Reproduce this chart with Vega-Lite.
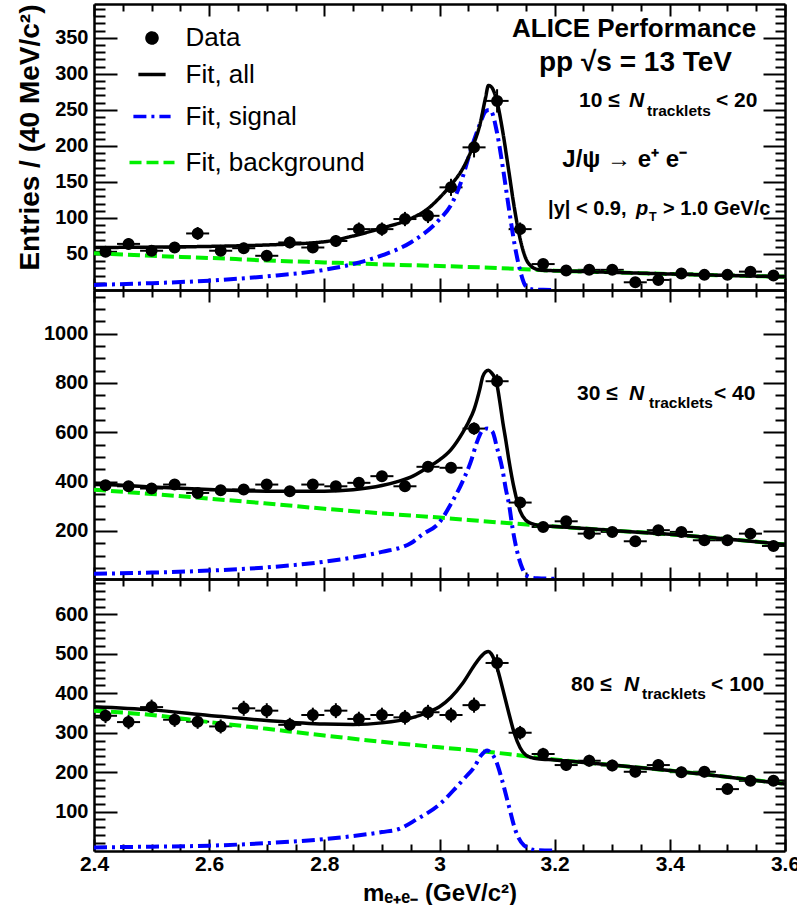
{
  "$schema": "https://vega.github.io/schema/vega-lite/v6.json",
  "background": "white",
  "padding": {"left": 15, "top": -1, "right": 0, "bottom": 0},
  "spacing": 0,
  "bounds": "flush",
  "config": {
    "view": {"stroke": null},
    "font": "Liberation Sans",
    "axis": {"domainColor": "black", "domainWidth": 2.5, "tickColor": "black", "tickWidth": 2, "grid": false, "labelFont": "Liberation Sans", "labelFontWeight": "bold", "labelColor": "black", "titleFont": "Liberation Sans", "titleFontWeight": "bold", "titleColor": "black", "labelOverlap": false, "labelFlush": false}
  },
  "datasets": {
    "points": [
      {"panel":"A","series":"Data","mass":2.42,"entries":53,"err":7.3,"halfwidth":0.02},
      {"panel":"A","series":"Data","mass":2.46,"entries":64,"err":8,"halfwidth":0.02},
      {"panel":"A","series":"Data","mass":2.50,"entries":54.5,"err":7.4,"halfwidth":0.02},
      {"panel":"A","series":"Data","mass":2.54,"entries":59,"err":7.7,"halfwidth":0.02},
      {"panel":"A","series":"Data","mass":2.58,"entries":78.5,"err":8.9,"halfwidth":0.02},
      {"panel":"A","series":"Data","mass":2.62,"entries":54.5,"err":7.4,"halfwidth":0.02},
      {"panel":"A","series":"Data","mass":2.66,"entries":58,"err":7.6,"halfwidth":0.02},
      {"panel":"A","series":"Data","mass":2.70,"entries":47.5,"err":6.9,"halfwidth":0.02},
      {"panel":"A","series":"Data","mass":2.74,"entries":66,"err":8.1,"halfwidth":0.02},
      {"panel":"A","series":"Data","mass":2.78,"entries":59,"err":7.7,"halfwidth":0.02},
      {"panel":"A","series":"Data","mass":2.82,"entries":68,"err":8.2,"halfwidth":0.02},
      {"panel":"A","series":"Data","mass":2.86,"entries":84.5,"err":9.2,"halfwidth":0.02},
      {"panel":"A","series":"Data","mass":2.90,"entries":84.5,"err":9.2,"halfwidth":0.02},
      {"panel":"A","series":"Data","mass":2.94,"entries":98.5,"err":9.9,"halfwidth":0.02},
      {"panel":"A","series":"Data","mass":2.98,"entries":103,"err":10.1,"halfwidth":0.02},
      {"panel":"A","series":"Data","mass":3.02,"entries":142.5,"err":11.9,"halfwidth":0.02},
      {"panel":"A","series":"Data","mass":3.06,"entries":198,"err":14,"halfwidth":0.02},
      {"panel":"A","series":"Data","mass":3.10,"entries":262.5,"err":16.2,"halfwidth":0.02},
      {"panel":"A","series":"Data","mass":3.14,"entries":84.5,"err":9.2,"halfwidth":0.02},
      {"panel":"A","series":"Data","mass":3.18,"entries":36,"err":6,"halfwidth":0.02},
      {"panel":"A","series":"Data","mass":3.22,"entries":27,"err":5.2,"halfwidth":0.02},
      {"panel":"A","series":"Data","mass":3.26,"entries":28,"err":5.3,"halfwidth":0.02},
      {"panel":"A","series":"Data","mass":3.30,"entries":28,"err":5.3,"halfwidth":0.02},
      {"panel":"A","series":"Data","mass":3.34,"entries":10.7,"err":3.3,"halfwidth":0.02},
      {"panel":"A","series":"Data","mass":3.38,"entries":14,"err":3.7,"halfwidth":0.02},
      {"panel":"A","series":"Data","mass":3.42,"entries":23,"err":4.8,"halfwidth":0.02},
      {"panel":"A","series":"Data","mass":3.46,"entries":21,"err":4.6,"halfwidth":0.02},
      {"panel":"A","series":"Data","mass":3.50,"entries":21,"err":4.6,"halfwidth":0.02},
      {"panel":"A","series":"Data","mass":3.54,"entries":25.5,"err":5,"halfwidth":0.02},
      {"panel":"A","series":"Data","mass":3.58,"entries":20,"err":4.5,"halfwidth":0.02},
      {"panel":"B","series":"Data","mass":2.42,"entries":385,"err":19.6,"halfwidth":0.02},
      {"panel":"B","series":"Data","mass":2.46,"entries":381,"err":19.5,"halfwidth":0.02},
      {"panel":"B","series":"Data","mass":2.50,"entries":372,"err":19.3,"halfwidth":0.02},
      {"panel":"B","series":"Data","mass":2.54,"entries":388,"err":19.7,"halfwidth":0.02},
      {"panel":"B","series":"Data","mass":2.58,"entries":354,"err":18.8,"halfwidth":0.02},
      {"panel":"B","series":"Data","mass":2.62,"entries":365,"err":19.1,"halfwidth":0.02},
      {"panel":"B","series":"Data","mass":2.66,"entries":368,"err":19.2,"halfwidth":0.02},
      {"panel":"B","series":"Data","mass":2.70,"entries":388,"err":19.7,"halfwidth":0.02},
      {"panel":"B","series":"Data","mass":2.74,"entries":361,"err":19,"halfwidth":0.02},
      {"panel":"B","series":"Data","mass":2.78,"entries":388,"err":19.7,"halfwidth":0.02},
      {"panel":"B","series":"Data","mass":2.82,"entries":381,"err":19.5,"halfwidth":0.02},
      {"panel":"B","series":"Data","mass":2.86,"entries":395,"err":19.9,"halfwidth":0.02},
      {"panel":"B","series":"Data","mass":2.90,"entries":422,"err":20.5,"halfwidth":0.02},
      {"panel":"B","series":"Data","mass":2.94,"entries":381,"err":19.5,"halfwidth":0.02},
      {"panel":"B","series":"Data","mass":2.98,"entries":460,"err":21.4,"halfwidth":0.02},
      {"panel":"B","series":"Data","mass":3.02,"entries":456,"err":21.4,"halfwidth":0.02},
      {"panel":"B","series":"Data","mass":3.06,"entries":615,"err":24.8,"halfwidth":0.02},
      {"panel":"B","series":"Data","mass":3.10,"entries":807,"err":28.4,"halfwidth":0.02},
      {"panel":"B","series":"Data","mass":3.14,"entries":315,"err":17.7,"halfwidth":0.02},
      {"panel":"B","series":"Data","mass":3.18,"entries":216,"err":14.7,"halfwidth":0.02},
      {"panel":"B","series":"Data","mass":3.22,"entries":239,"err":15.5,"halfwidth":0.02},
      {"panel":"B","series":"Data","mass":3.26,"entries":189,"err":13.7,"halfwidth":0.02},
      {"panel":"B","series":"Data","mass":3.30,"entries":196,"err":14,"halfwidth":0.02},
      {"panel":"B","series":"Data","mass":3.34,"entries":158,"err":12.6,"halfwidth":0.02},
      {"panel":"B","series":"Data","mass":3.38,"entries":203,"err":14.2,"halfwidth":0.02},
      {"panel":"B","series":"Data","mass":3.42,"entries":196,"err":14,"halfwidth":0.02},
      {"panel":"B","series":"Data","mass":3.46,"entries":162,"err":12.7,"halfwidth":0.02},
      {"panel":"B","series":"Data","mass":3.50,"entries":162,"err":12.7,"halfwidth":0.02},
      {"panel":"B","series":"Data","mass":3.54,"entries":189,"err":13.7,"halfwidth":0.02},
      {"panel":"B","series":"Data","mass":3.58,"entries":139,"err":11.8,"halfwidth":0.02},
      {"panel":"C","series":"Data","mass":2.42,"entries":343,"err":18.5,"halfwidth":0.02},
      {"panel":"C","series":"Data","mass":2.46,"entries":327,"err":18,"halfwidth":0.02},
      {"panel":"C","series":"Data","mass":2.50,"entries":365,"err":19,"halfwidth":0.02},
      {"panel":"C","series":"Data","mass":2.54,"entries":333,"err":18.2,"halfwidth":0.02},
      {"panel":"C","series":"Data","mass":2.58,"entries":328,"err":18.1,"halfwidth":0.02},
      {"panel":"C","series":"Data","mass":2.62,"entries":316,"err":17.8,"halfwidth":0.02},
      {"panel":"C","series":"Data","mass":2.66,"entries":362,"err":19,"halfwidth":0.02},
      {"panel":"C","series":"Data","mass":2.70,"entries":356,"err":18.9,"halfwidth":0.02},
      {"panel":"C","series":"Data","mass":2.74,"entries":320,"err":17.9,"halfwidth":0.02},
      {"panel":"C","series":"Data","mass":2.78,"entries":345,"err":18.6,"halfwidth":0.02},
      {"panel":"C","series":"Data","mass":2.82,"entries":356,"err":18.9,"halfwidth":0.02},
      {"panel":"C","series":"Data","mass":2.86,"entries":335,"err":18.3,"halfwidth":0.02},
      {"panel":"C","series":"Data","mass":2.90,"entries":345,"err":18.6,"halfwidth":0.02},
      {"panel":"C","series":"Data","mass":2.94,"entries":339,"err":18.4,"halfwidth":0.02},
      {"panel":"C","series":"Data","mass":2.98,"entries":352,"err":18.8,"halfwidth":0.02},
      {"panel":"C","series":"Data","mass":3.02,"entries":345,"err":18.6,"halfwidth":0.02},
      {"panel":"C","series":"Data","mass":3.06,"entries":370,"err":19.2,"halfwidth":0.02},
      {"panel":"C","series":"Data","mass":3.10,"entries":477,"err":21.8,"halfwidth":0.02},
      {"panel":"C","series":"Data","mass":3.14,"entries":300,"err":17.3,"halfwidth":0.02},
      {"panel":"C","series":"Data","mass":3.18,"entries":246,"err":15.7,"halfwidth":0.02},
      {"panel":"C","series":"Data","mass":3.22,"entries":218,"err":14.8,"halfwidth":0.02},
      {"panel":"C","series":"Data","mass":3.26,"entries":229,"err":15.1,"halfwidth":0.02},
      {"panel":"C","series":"Data","mass":3.30,"entries":217,"err":14.7,"halfwidth":0.02},
      {"panel":"C","series":"Data","mass":3.34,"entries":201,"err":14.2,"halfwidth":0.02},
      {"panel":"C","series":"Data","mass":3.38,"entries":218,"err":14.8,"halfwidth":0.02},
      {"panel":"C","series":"Data","mass":3.42,"entries":200,"err":14.1,"halfwidth":0.02},
      {"panel":"C","series":"Data","mass":3.46,"entries":201,"err":14.2,"halfwidth":0.02},
      {"panel":"C","series":"Data","mass":3.50,"entries":157,"err":12.5,"halfwidth":0.02},
      {"panel":"C","series":"Data","mass":3.54,"entries":178,"err":13.3,"halfwidth":0.02},
      {"panel":"C","series":"Data","mass":3.58,"entries":178,"err":13.3,"halfwidth":0.02}
    ],
    "curves": [
      {"panel":"A","series":"Fit, all","mass":2.40,"entries":59},
      {"panel":"A","series":"Fit, all","mass":2.50,"entries":59.5},
      {"panel":"A","series":"Fit, all","mass":2.60,"entries":60.5},
      {"panel":"A","series":"Fit, all","mass":2.70,"entries":62.5},
      {"panel":"A","series":"Fit, all","mass":2.80,"entries":67},
      {"panel":"A","series":"Fit, all","mass":2.85,"entries":75},
      {"panel":"A","series":"Fit, all","mass":2.90,"entries":86},
      {"panel":"A","series":"Fit, all","mass":2.95,"entries":99},
      {"panel":"A","series":"Fit, all","mass":2.98,"entries":113},
      {"panel":"A","series":"Fit, all","mass":3.00,"entries":128},
      {"panel":"A","series":"Fit, all","mass":3.02,"entries":146},
      {"panel":"A","series":"Fit, all","mass":3.04,"entries":168},
      {"panel":"A","series":"Fit, all","mass":3.05,"entries":184},
      {"panel":"A","series":"Fit, all","mass":3.06,"entries":204},
      {"panel":"A","series":"Fit, all","mass":3.07,"entries":229},
      {"panel":"A","series":"Fit, all","mass":3.08,"entries":267},
      {"panel":"A","series":"Fit, all","mass":3.085,"entries":284},
      {"panel":"A","series":"Fit, all","mass":3.09,"entries":282},
      {"panel":"A","series":"Fit, all","mass":3.10,"entries":261},
      {"panel":"A","series":"Fit, all","mass":3.11,"entries":219},
      {"panel":"A","series":"Fit, all","mass":3.12,"entries":167},
      {"panel":"A","series":"Fit, all","mass":3.13,"entries":114},
      {"panel":"A","series":"Fit, all","mass":3.14,"entries":71},
      {"panel":"A","series":"Fit, all","mass":3.15,"entries":43.5},
      {"panel":"A","series":"Fit, all","mass":3.16,"entries":32.5},
      {"panel":"A","series":"Fit, all","mass":3.17,"entries":28.5},
      {"panel":"A","series":"Fit, all","mass":3.18,"entries":27.3},
      {"panel":"A","series":"Fit, all","mass":3.20,"entries":26.8},
      {"panel":"A","series":"Fit, all","mass":3.30,"entries":24.5},
      {"panel":"A","series":"Fit, all","mass":3.40,"entries":22.2},
      {"panel":"A","series":"Fit, all","mass":3.50,"entries":20.2},
      {"panel":"A","series":"Fit, all","mass":3.60,"entries":18.3},
      {"panel":"A","series":"Fit, background","mass":2.40,"entries":51},
      {"panel":"A","series":"Fit, background","mass":2.50,"entries":47.5},
      {"panel":"A","series":"Fit, background","mass":2.60,"entries":44.5},
      {"panel":"A","series":"Fit, background","mass":2.70,"entries":41},
      {"panel":"A","series":"Fit, background","mass":2.80,"entries":38.3},
      {"panel":"A","series":"Fit, background","mass":2.90,"entries":35.6},
      {"panel":"A","series":"Fit, background","mass":3.00,"entries":33.3},
      {"panel":"A","series":"Fit, background","mass":3.10,"entries":30.5},
      {"panel":"A","series":"Fit, background","mass":3.20,"entries":26.8},
      {"panel":"A","series":"Fit, background","mass":3.30,"entries":24.5},
      {"panel":"A","series":"Fit, background","mass":3.40,"entries":22.2},
      {"panel":"A","series":"Fit, background","mass":3.50,"entries":20.2},
      {"panel":"A","series":"Fit, background","mass":3.60,"entries":18.3},
      {"panel":"A","series":"Fit, signal","mass":2.40,"entries":7},
      {"panel":"A","series":"Fit, signal","mass":2.50,"entries":9.5},
      {"panel":"A","series":"Fit, signal","mass":2.60,"entries":13},
      {"panel":"A","series":"Fit, signal","mass":2.70,"entries":19},
      {"panel":"A","series":"Fit, signal","mass":2.80,"entries":28},
      {"panel":"A","series":"Fit, signal","mass":2.85,"entries":36},
      {"panel":"A","series":"Fit, signal","mass":2.90,"entries":48},
      {"panel":"A","series":"Fit, signal","mass":2.95,"entries":66},
      {"panel":"A","series":"Fit, signal","mass":3.00,"entries":98},
      {"panel":"A","series":"Fit, signal","mass":3.02,"entries":118},
      {"panel":"A","series":"Fit, signal","mass":3.04,"entries":156},
      {"panel":"A","series":"Fit, signal","mass":3.05,"entries":183},
      {"panel":"A","series":"Fit, signal","mass":3.06,"entries":208},
      {"panel":"A","series":"Fit, signal","mass":3.07,"entries":230},
      {"panel":"A","series":"Fit, signal","mass":3.08,"entries":248},
      {"panel":"A","series":"Fit, signal","mass":3.086,"entries":250},
      {"panel":"A","series":"Fit, signal","mass":3.09,"entries":248},
      {"panel":"A","series":"Fit, signal","mass":3.10,"entries":218},
      {"panel":"A","series":"Fit, signal","mass":3.11,"entries":170},
      {"panel":"A","series":"Fit, signal","mass":3.12,"entries":116},
      {"panel":"A","series":"Fit, signal","mass":3.13,"entries":65},
      {"panel":"A","series":"Fit, signal","mass":3.14,"entries":27},
      {"panel":"A","series":"Fit, signal","mass":3.15,"entries":5},
      {"panel":"A","series":"Fit, signal","mass":3.16,"entries":1},
      {"panel":"A","series":"Fit, signal","mass":3.18,"entries":0.3},
      {"panel":"A","series":"Fit, signal","mass":3.20,"entries":0},
      {"panel":"B","series":"Fit, all","mass":2.40,"entries":392},
      {"panel":"B","series":"Fit, all","mass":2.50,"entries":378},
      {"panel":"B","series":"Fit, all","mass":2.60,"entries":368},
      {"panel":"B","series":"Fit, all","mass":2.70,"entries":361},
      {"panel":"B","series":"Fit, all","mass":2.80,"entries":361},
      {"panel":"B","series":"Fit, all","mass":2.85,"entries":367},
      {"panel":"B","series":"Fit, all","mass":2.90,"entries":384},
      {"panel":"B","series":"Fit, all","mass":2.93,"entries":402},
      {"panel":"B","series":"Fit, all","mass":2.95,"entries":418},
      {"panel":"B","series":"Fit, all","mass":2.98,"entries":458},
      {"panel":"B","series":"Fit, all","mass":3.00,"entries":488},
      {"panel":"B","series":"Fit, all","mass":3.02,"entries":530},
      {"panel":"B","series":"Fit, all","mass":3.04,"entries":598},
      {"panel":"B","series":"Fit, all","mass":3.05,"entries":640},
      {"panel":"B","series":"Fit, all","mass":3.06,"entries":692},
      {"panel":"B","series":"Fit, all","mass":3.07,"entries":775},
      {"panel":"B","series":"Fit, all","mass":3.075,"entries":825},
      {"panel":"B","series":"Fit, all","mass":3.08,"entries":846},
      {"panel":"B","series":"Fit, all","mass":3.085,"entries":852},
      {"panel":"B","series":"Fit, all","mass":3.09,"entries":842},
      {"panel":"B","series":"Fit, all","mass":3.095,"entries":825},
      {"panel":"B","series":"Fit, all","mass":3.10,"entries":790},
      {"panel":"B","series":"Fit, all","mass":3.105,"entries":720},
      {"panel":"B","series":"Fit, all","mass":3.11,"entries":640},
      {"panel":"B","series":"Fit, all","mass":3.115,"entries":570},
      {"panel":"B","series":"Fit, all","mass":3.12,"entries":495},
      {"panel":"B","series":"Fit, all","mass":3.13,"entries":368},
      {"panel":"B","series":"Fit, all","mass":3.14,"entries":280},
      {"panel":"B","series":"Fit, all","mass":3.15,"entries":243},
      {"panel":"B","series":"Fit, all","mass":3.16,"entries":230},
      {"panel":"B","series":"Fit, all","mass":3.17,"entries":223},
      {"panel":"B","series":"Fit, all","mass":3.18,"entries":220},
      {"panel":"B","series":"Fit, all","mass":3.20,"entries":218},
      {"panel":"B","series":"Fit, all","mass":3.30,"entries":202},
      {"panel":"B","series":"Fit, all","mass":3.40,"entries":186},
      {"panel":"B","series":"Fit, all","mass":3.50,"entries":167},
      {"panel":"B","series":"Fit, all","mass":3.60,"entries":145},
      {"panel":"B","series":"Fit, background","mass":2.40,"entries":367},
      {"panel":"B","series":"Fit, background","mass":2.50,"entries":350},
      {"panel":"B","series":"Fit, background","mass":2.60,"entries":331},
      {"panel":"B","series":"Fit, background","mass":2.70,"entries":311},
      {"panel":"B","series":"Fit, background","mass":2.80,"entries":290},
      {"panel":"B","series":"Fit, background","mass":2.90,"entries":271},
      {"panel":"B","series":"Fit, background","mass":3.00,"entries":254},
      {"panel":"B","series":"Fit, background","mass":3.10,"entries":235},
      {"panel":"B","series":"Fit, background","mass":3.20,"entries":218},
      {"panel":"B","series":"Fit, background","mass":3.30,"entries":202},
      {"panel":"B","series":"Fit, background","mass":3.40,"entries":186},
      {"panel":"B","series":"Fit, background","mass":3.50,"entries":167},
      {"panel":"B","series":"Fit, background","mass":3.60,"entries":145},
      {"panel":"B","series":"Fit, signal","mass":2.40,"entries":26},
      {"panel":"B","series":"Fit, signal","mass":2.50,"entries":31},
      {"panel":"B","series":"Fit, signal","mass":2.60,"entries":39},
      {"panel":"B","series":"Fit, signal","mass":2.70,"entries":52},
      {"panel":"B","series":"Fit, signal","mass":2.80,"entries":75},
      {"panel":"B","series":"Fit, signal","mass":2.85,"entries":92},
      {"panel":"B","series":"Fit, signal","mass":2.90,"entries":115},
      {"panel":"B","series":"Fit, signal","mass":2.95,"entries":150},
      {"panel":"B","series":"Fit, signal","mass":2.97,"entries":185},
      {"panel":"B","series":"Fit, signal","mass":3.00,"entries":235},
      {"panel":"B","series":"Fit, signal","mass":3.02,"entries":310},
      {"panel":"B","series":"Fit, signal","mass":3.04,"entries":400},
      {"panel":"B","series":"Fit, signal","mass":3.055,"entries":485},
      {"panel":"B","series":"Fit, signal","mass":3.065,"entries":560},
      {"panel":"B","series":"Fit, signal","mass":3.075,"entries":608},
      {"panel":"B","series":"Fit, signal","mass":3.083,"entries":615},
      {"panel":"B","series":"Fit, signal","mass":3.092,"entries":602},
      {"panel":"B","series":"Fit, signal","mass":3.10,"entries":536},
      {"panel":"B","series":"Fit, signal","mass":3.109,"entries":453},
      {"panel":"B","series":"Fit, signal","mass":3.115,"entries":372},
      {"panel":"B","series":"Fit, signal","mass":3.121,"entries":304},
      {"panel":"B","series":"Fit, signal","mass":3.127,"entries":209},
      {"panel":"B","series":"Fit, signal","mass":3.135,"entries":115},
      {"panel":"B","series":"Fit, signal","mass":3.144,"entries":47},
      {"panel":"B","series":"Fit, signal","mass":3.155,"entries":14},
      {"panel":"B","series":"Fit, signal","mass":3.17,"entries":8},
      {"panel":"B","series":"Fit, signal","mass":3.20,"entries":6},
      {"panel":"C","series":"Fit, all","mass":2.40,"entries":366},
      {"panel":"C","series":"Fit, all","mass":2.50,"entries":358},
      {"panel":"C","series":"Fit, all","mass":2.60,"entries":344},
      {"panel":"C","series":"Fit, all","mass":2.70,"entries":331},
      {"panel":"C","series":"Fit, all","mass":2.80,"entries":322},
      {"panel":"C","series":"Fit, all","mass":2.85,"entries":321},
      {"panel":"C","series":"Fit, all","mass":2.90,"entries":325},
      {"panel":"C","series":"Fit, all","mass":2.95,"entries":337},
      {"panel":"C","series":"Fit, all","mass":2.98,"entries":352},
      {"panel":"C","series":"Fit, all","mass":3.00,"entries":366},
      {"panel":"C","series":"Fit, all","mass":3.02,"entries":390},
      {"panel":"C","series":"Fit, all","mass":3.04,"entries":425},
      {"panel":"C","series":"Fit, all","mass":3.06,"entries":470},
      {"panel":"C","series":"Fit, all","mass":3.07,"entries":490},
      {"panel":"C","series":"Fit, all","mass":3.08,"entries":504},
      {"panel":"C","series":"Fit, all","mass":3.085,"entries":506},
      {"panel":"C","series":"Fit, all","mass":3.09,"entries":500},
      {"panel":"C","series":"Fit, all","mass":3.10,"entries":465},
      {"panel":"C","series":"Fit, all","mass":3.11,"entries":410},
      {"panel":"C","series":"Fit, all","mass":3.12,"entries":352},
      {"panel":"C","series":"Fit, all","mass":3.13,"entries":298},
      {"panel":"C","series":"Fit, all","mass":3.14,"entries":262},
      {"panel":"C","series":"Fit, all","mass":3.15,"entries":243},
      {"panel":"C","series":"Fit, all","mass":3.16,"entries":237},
      {"panel":"C","series":"Fit, all","mass":3.17,"entries":234},
      {"panel":"C","series":"Fit, all","mass":3.20,"entries":231},
      {"panel":"C","series":"Fit, all","mass":3.30,"entries":218},
      {"panel":"C","series":"Fit, all","mass":3.40,"entries":204},
      {"panel":"C","series":"Fit, all","mass":3.50,"entries":188},
      {"panel":"C","series":"Fit, all","mass":3.60,"entries":170},
      {"panel":"C","series":"Fit, background","mass":2.40,"entries":356},
      {"panel":"C","series":"Fit, background","mass":2.50,"entries":345},
      {"panel":"C","series":"Fit, background","mass":2.60,"entries":327},
      {"panel":"C","series":"Fit, background","mass":2.70,"entries":310},
      {"panel":"C","series":"Fit, background","mass":2.80,"entries":293},
      {"panel":"C","series":"Fit, background","mass":2.90,"entries":277},
      {"panel":"C","series":"Fit, background","mass":3.00,"entries":263},
      {"panel":"C","series":"Fit, background","mass":3.10,"entries":249},
      {"panel":"C","series":"Fit, background","mass":3.20,"entries":232},
      {"panel":"C","series":"Fit, background","mass":3.30,"entries":218},
      {"panel":"C","series":"Fit, background","mass":3.40,"entries":204},
      {"panel":"C","series":"Fit, background","mass":3.50,"entries":188},
      {"panel":"C","series":"Fit, background","mass":3.60,"entries":170},
      {"panel":"C","series":"Fit, signal","mass":2.40,"entries":9},
      {"panel":"C","series":"Fit, signal","mass":2.50,"entries":11},
      {"panel":"C","series":"Fit, signal","mass":2.60,"entries":13.5},
      {"panel":"C","series":"Fit, signal","mass":2.70,"entries":20},
      {"panel":"C","series":"Fit, signal","mass":2.80,"entries":30},
      {"panel":"C","series":"Fit, signal","mass":2.85,"entries":38},
      {"panel":"C","series":"Fit, signal","mass":2.90,"entries":48},
      {"panel":"C","series":"Fit, signal","mass":2.93,"entries":56},
      {"panel":"C","series":"Fit, signal","mass":2.96,"entries":80},
      {"panel":"C","series":"Fit, signal","mass":3.00,"entries":118},
      {"panel":"C","series":"Fit, signal","mass":3.03,"entries":163},
      {"panel":"C","series":"Fit, signal","mass":3.045,"entries":187},
      {"panel":"C","series":"Fit, signal","mass":3.06,"entries":212},
      {"panel":"C","series":"Fit, signal","mass":3.072,"entries":242},
      {"panel":"C","series":"Fit, signal","mass":3.083,"entries":255},
      {"panel":"C","series":"Fit, signal","mass":3.09,"entries":248},
      {"panel":"C","series":"Fit, signal","mass":3.098,"entries":229},
      {"panel":"C","series":"Fit, signal","mass":3.109,"entries":178},
      {"panel":"C","series":"Fit, signal","mass":3.121,"entries":111},
      {"panel":"C","series":"Fit, signal","mass":3.132,"entries":52},
      {"panel":"C","series":"Fit, signal","mass":3.147,"entries":14},
      {"panel":"C","series":"Fit, signal","mass":3.167,"entries":2},
      {"panel":"C","series":"Fit, signal","mass":3.20,"entries":1}
    ]
  },
  "vconcat": [
    {
      "width": 691, "height": 286,
      "layer": [
        {"data": {"name": "points"}, "transform": [{"filter": "datum.panel === 'A'"}],
         "mark": {"type": "errorbar", "color": "black", "thickness": 2},
         "encoding": {
           "x": {"field": "mass", "type": "quantitative", "scale": {"domain": [2.4, 3.6], "nice": false, "zero": false}, "axis": null},
           "xError": {"field": "halfwidth"},
           "y": {"field": "entries", "type": "quantitative", "scale": {"domain": [0, 397], "nice": false, "zero": false}, "axis": null}}},
        {"data": {"name": "points"}, "transform": [{"filter": "datum.panel === 'A'"}],
         "mark": {"type": "errorbar", "color": "black", "thickness": 2},
         "encoding": {
           "x": {"field": "mass", "type": "quantitative", "scale": {"domain": [2.4, 3.6], "nice": false, "zero": false}, "axis": null},
           "y": {"field": "entries", "type": "quantitative", "scale": {"domain": [0, 397], "nice": false, "zero": false}, "axis": null},
           "yError": {"field": "err"}}},
        {"data": {"name": "curves"}, "transform": [{"filter": "datum.panel === 'A' && datum.series === 'Fit, background'"}],
         "mark": {"type": "line", "strokeWidth": 4, "clip": true, "interpolate": "monotone"},
         "encoding": {
           "x": {"field": "mass", "type": "quantitative", "scale": {"domain": [2.4, 3.6], "nice": false, "zero": false},
                 "axis": {"orient": "bottom", "values": [2.4,2.45,2.5,2.55,2.6,2.65,2.7,2.75,2.8,2.85,2.9,2.95,3,3.05,3.1,3.15,3.2,3.25,3.3,3.35,3.4,3.45,3.5,3.55,3.6], "labels": false, "title": null,
                          "tickSize": {"condition": {"test": "abs(datum.value*5 - round(datum.value*5)) < 0.01", "value": -12}, "value": -7}}},
           "y": {"field": "entries", "type": "quantitative", "scale": {"domain": [0, 397], "nice": false, "zero": false},
                 "axis": {"orient": "left", "values": [10,20,30,40,50,60,70,80,90,100,110,120,130,140,150,160,170,180,190,200,210,220,230,240,250,260,270,280,290,300,310,320,330,340,350,360,370,380,390],
                          "labelExpr": "datum.value % 50 === 0 ? format(datum.value, 'd') : ''", "labelFontSize": 20, "labelPadding": 29, "labelBaseline": "middle",
                          "tickSize": {"condition": {"test": "datum.value % 50 === 0", "value": -23}, "value": -11},
                          "title": "Entries / (40 MeV/c²)", "titleFontSize": 28, "titleAnchor": "end", "titleX": -50}},
           "color": {"field": "series", "type": "nominal", "scale": {"domain": ["Data", "Fit, all", "Fit, signal", "Fit, background"], "range": ["black", "black", "#0000ff", "#00f000"]},
                     "legend": {"title": null, "orient": "none", "legendX": 33.5, "legendY": 21, "padding": 0, "labelFont": "Liberation Sans", "labelFontSize": 26, "labelFontWeight": "normal", "labelColor": "black", "labelOffset": 9, "labelLimit": 0, "rowPadding": 8, "symbolStrokeWidth": 3.5, "symbolOpacity": 1}},
           "strokeDash": {"field": "series", "type": "nominal", "scale": {"domain": ["Data", "Fit, all", "Fit, signal", "Fit, background"], "range": [[1, 0], [1, 0], [13, 5, 3, 5], [12, 5]]},
                     "legend": {"title": null, "orient": "none", "legendX": 33.5, "legendY": 21, "padding": 0, "labelFont": "Liberation Sans", "labelFontSize": 26, "labelFontWeight": "normal", "labelColor": "black", "labelOffset": 9, "labelLimit": 0, "rowPadding": 8, "symbolStrokeWidth": 3.5, "symbolOpacity": 1}}}},
        {"data": {"name": "curves"}, "transform": [{"filter": "datum.panel === 'A' && datum.series === 'Fit, signal'"}],
         "mark": {"type": "line", "strokeWidth": 4, "clip": true, "interpolate": "monotone"},
         "encoding": {
           "x": {"field": "mass", "type": "quantitative", "scale": {"domain": [2.4, 3.6], "nice": false, "zero": false},
                 "axis": {"orient": "top", "values": [2.4,2.45,2.5,2.55,2.6,2.65,2.7,2.75,2.8,2.85,2.9,2.95,3,3.05,3.1,3.15,3.2,3.25,3.3,3.35,3.4,3.45,3.5,3.55,3.6], "labels": false, "title": null,
                          "tickSize": {"condition": {"test": "abs(datum.value*5 - round(datum.value*5)) < 0.01", "value": -12}, "value": -7}}},
           "y": {"field": "entries", "type": "quantitative", "scale": {"domain": [0, 397], "nice": false, "zero": false},
                 "axis": {"orient": "right", "values": [10,20,30,40,50,60,70,80,90,100,110,120,130,140,150,160,170,180,190,200,210,220,230,240,250,260,270,280,290,300,310,320,330,340,350,360,370,380,390],
                          "labels": false, "title": null,
                          "tickSize": {"condition": {"test": "datum.value % 50 === 0", "value": -22}, "value": -10}}},
           "color": {"field": "series", "type": "nominal", "scale": {"domain": ["Data", "Fit, all", "Fit, signal", "Fit, background"], "range": ["black", "black", "#0000ff", "#00f000"]}},
           "strokeDash": {"field": "series", "type": "nominal", "scale": {"domain": ["Data", "Fit, all", "Fit, signal", "Fit, background"], "range": [[1, 0], [1, 0], [13, 5, 3, 5], [12, 5]]}}}},
        {"data": {"name": "curves"}, "transform": [{"filter": "datum.panel === 'A' && datum.series === 'Fit, all'"}],
         "mark": {"type": "line", "strokeWidth": 3.5, "clip": true, "interpolate": "monotone"},
         "encoding": {
           "x": {"field": "mass", "type": "quantitative", "scale": {"domain": [2.4, 3.6], "nice": false, "zero": false}, "axis": null},
           "y": {"field": "entries", "type": "quantitative", "scale": {"domain": [0, 397], "nice": false, "zero": false}, "axis": null},
           "color": {"field": "series", "type": "nominal", "scale": {"domain": ["Data", "Fit, all", "Fit, signal", "Fit, background"], "range": ["black", "black", "#0000ff", "#00f000"]}},
           "strokeDash": {"field": "series", "type": "nominal", "scale": {"domain": ["Data", "Fit, all", "Fit, signal", "Fit, background"], "range": [[1, 0], [1, 0], [13, 5, 3, 5], [12, 5]]}}}},
        {"data": {"name": "points"}, "transform": [{"filter": "datum.panel === 'A'"}],
         "mark": {"type": "point", "filled": true, "opacity": 1, "stroke": "black", "strokeWidth": 2},
         "encoding": {
           "x": {"field": "mass", "type": "quantitative", "scale": {"domain": [2.4, 3.6], "nice": false, "zero": false}, "axis": null},
           "y": {"field": "entries", "type": "quantitative", "scale": {"domain": [0, 397], "nice": false, "zero": false}, "axis": null},
           "color": {"field": "series", "type": "nominal", "scale": {"domain": ["Data", "Fit, all", "Fit, signal", "Fit, background"], "range": ["black", "black", "#0000ff", "#00f000"]}},
           "shape": {"field": "series", "type": "nominal", "scale": {"domain": ["Data", "Fit, all", "Fit, signal", "Fit, background"], "range": ["circle", "stroke", "stroke", "stroke"]},
                     "legend": {"title": null, "orient": "none", "legendX": 33.5, "legendY": 21, "padding": 0, "labelFont": "Liberation Sans", "labelFontSize": 26, "labelFontWeight": "normal", "labelColor": "black", "labelOffset": 9, "labelLimit": 0, "rowPadding": 8, "symbolStrokeWidth": 3.5, "symbolOpacity": 1}},
           "size": {"field": "series", "type": "nominal", "scale": {"domain": ["Data", "Fit, all", "Fit, signal", "Fit, background"], "range": [100, 2025, 2025, 2025]},
                     "legend": {"title": null, "orient": "none", "legendX": 33.5, "legendY": 21, "padding": 0, "labelFont": "Liberation Sans", "labelFontSize": 26, "labelFontWeight": "normal", "labelColor": "black", "labelOffset": 9, "labelLimit": 0, "rowPadding": 8, "symbolStrokeWidth": 3.5, "symbolOpacity": 1}}}},
        {"data": {"values": [{}]}, "mark": {"type": "text", "text": "ALICE Performance", "align": "right", "baseline": "middle", "fontSize": 26, "fontWeight": "bold", "color": "black"},
         "encoding": {"x": {"datum": 3.55, "type": "quantitative", "axis": null}, "y": {"datum": 362, "type": "quantitative", "axis": null}}},
        {"data": {"values": [{}]}, "mark": {"type": "text", "text": "pp  √s = 13 TeV", "align": "right", "baseline": "middle", "fontSize": 28, "fontWeight": "bold", "color": "black"},
         "encoding": {"x": {"datum": 3.508, "type": "quantitative", "axis": null}, "y": {"datum": 315, "type": "quantitative", "axis": null}}},
        {"data": {"values": [{}]}, "mark": {"type": "text", "text": "10 ≤", "align": "left", "baseline": "middle", "fontSize": 21, "fontWeight": "bold", "color": "black"},
         "encoding": {"x": {"datum": 3.2423, "type": "quantitative", "axis": null}, "y": {"datum": 263, "type": "quantitative", "axis": null}}},
        {"data": {"values": [{}]}, "mark": {"type": "text", "text": "N", "align": "left", "baseline": "middle", "fontSize": 21, "fontWeight": "bold", "fontStyle": "italic", "color": "black"},
         "encoding": {"x": {"datum": 3.3291, "type": "quantitative", "axis": null}, "y": {"datum": 263, "type": "quantitative", "axis": null}}},
        {"data": {"values": [{}]}, "mark": {"type": "text", "text": "tracklets", "align": "left", "baseline": "middle", "fontSize": 15.5, "fontWeight": "bold", "color": "black"},
         "encoding": {"x": {"datum": 3.3604, "type": "quantitative", "axis": null}, "y": {"datum": 249, "type": "quantitative", "axis": null}}},
        {"data": {"values": [{}]}, "mark": {"type": "text", "text": "< 20", "align": "left", "baseline": "middle", "fontSize": 21, "fontWeight": "bold", "color": "black"},
         "encoding": {"x": {"datum": 3.4802, "type": "quantitative", "axis": null}, "y": {"datum": 263, "type": "quantitative", "axis": null}}},
        {"data": {"values": [{}]}, "mark": {"type": "text", "text": "J/ψ  → e⁺ e⁻", "align": "center", "baseline": "middle", "fontSize": 24, "fontWeight": "bold", "color": "black"},
         "encoding": {"x": {"datum": 3.3217, "type": "quantitative", "axis": null}, "y": {"datum": 181, "type": "quantitative", "axis": null}}},
        {"data": {"values": [{}]}, "mark": {"type": "text", "text": "|y| < 0.9,", "align": "left", "baseline": "middle", "fontSize": 20, "fontWeight": "bold", "color": "black"},
         "encoding": {"x": {"datum": 3.1885, "type": "quantitative", "axis": null}, "y": {"datum": 112, "type": "quantitative", "axis": null}}},
        {"data": {"values": [{}]}, "mark": {"type": "text", "text": "p", "align": "left", "baseline": "middle", "fontSize": 20, "fontWeight": "bold", "fontStyle": "italic", "color": "black"},
         "encoding": {"x": {"datum": 3.3413, "type": "quantitative", "axis": null}, "y": {"datum": 112, "type": "quantitative", "axis": null}}},
        {"data": {"values": [{}]}, "mark": {"type": "text", "text": "T", "align": "left", "baseline": "middle", "fontSize": 12.5, "fontWeight": "bold", "color": "black"},
         "encoding": {"x": {"datum": 3.3639, "type": "quantitative", "axis": null}, "y": {"datum": 101, "type": "quantitative", "axis": null}}},
        {"data": {"values": [{}]}, "mark": {"type": "text", "text": "> 1.0 GeV/c", "align": "left", "baseline": "middle", "fontSize": 20, "fontWeight": "bold", "color": "black"},
         "encoding": {"x": {"datum": 3.3882, "type": "quantitative", "axis": null}, "y": {"datum": 112, "type": "quantitative", "axis": null}}}
      ]
    },
    {
      "width": 691, "height": 289,
      "layer": [
        {"data": {"name": "points"}, "transform": [{"filter": "datum.panel === 'B'"}],
         "mark": {"type": "errorbar", "color": "black", "thickness": 2},
         "encoding": {
           "x": {"field": "mass", "type": "quantitative", "scale": {"domain": [2.4, 3.6], "nice": false, "zero": false}, "axis": null},
           "xError": {"field": "halfwidth"},
           "y": {"field": "entries", "type": "quantitative", "scale": {"domain": [5, 1177], "nice": false, "zero": false}, "axis": null}}},
        {"data": {"name": "points"}, "transform": [{"filter": "datum.panel === 'B'"}],
         "mark": {"type": "errorbar", "color": "black", "thickness": 2},
         "encoding": {
           "x": {"field": "mass", "type": "quantitative", "scale": {"domain": [2.4, 3.6], "nice": false, "zero": false}, "axis": null},
           "y": {"field": "entries", "type": "quantitative", "scale": {"domain": [5, 1177], "nice": false, "zero": false}, "axis": null},
           "yError": {"field": "err"}}},
        {"data": {"name": "curves"}, "transform": [{"filter": "datum.panel === 'B' && datum.series === 'Fit, background'"}],
         "mark": {"type": "line", "strokeWidth": 4, "strokeDash": [12, 5], "clip": true, "interpolate": "monotone"},
         "encoding": {
           "x": {"field": "mass", "type": "quantitative", "scale": {"domain": [2.4, 3.6], "nice": false, "zero": false},
                 "axis": {"orient": "bottom", "values": [2.4,2.45,2.5,2.55,2.6,2.65,2.7,2.75,2.8,2.85,2.9,2.95,3,3.05,3.1,3.15,3.2,3.25,3.3,3.35,3.4,3.45,3.5,3.55,3.6], "labels": false, "title": null,
                          "tickSize": {"condition": {"test": "abs(datum.value*5 - round(datum.value*5)) < 0.01", "value": -12}, "value": -7}}},
           "y": {"field": "entries", "type": "quantitative", "scale": {"domain": [5, 1177], "nice": false, "zero": false},
                 "axis": {"orient": "left", "values": [50,100,150,200,250,300,350,400,450,500,550,600,650,700,750,800,850,900,950,1000,1050,1100,1150],
                          "labelExpr": "datum.value % 200 === 0 ? format(datum.value, 'd') : ''", "labelFontSize": 20, "labelPadding": 29, "labelBaseline": "middle",
                          "tickSize": {"condition": {"test": "datum.value % 200 === 0", "value": -23}, "value": -11}, "title": null}},
           "color": {"field": "series", "type": "nominal", "scale": {"domain": ["Data", "Fit, all", "Fit, signal", "Fit, background"], "range": ["black", "black", "#0000ff", "#00f000"]}}}},
        {"data": {"name": "curves"}, "transform": [{"filter": "datum.panel === 'B' && datum.series === 'Fit, signal'"}],
         "mark": {"type": "line", "strokeWidth": 4, "strokeDash": [13, 5, 3, 5], "clip": true, "interpolate": "monotone"},
         "encoding": {
           "x": {"field": "mass", "type": "quantitative", "scale": {"domain": [2.4, 3.6], "nice": false, "zero": false},
                 "axis": {"orient": "top", "values": [2.4,2.45,2.5,2.55,2.6,2.65,2.7,2.75,2.8,2.85,2.9,2.95,3,3.05,3.1,3.15,3.2,3.25,3.3,3.35,3.4,3.45,3.5,3.55,3.6], "labels": false, "title": null,
                          "tickSize": {"condition": {"test": "abs(datum.value*5 - round(datum.value*5)) < 0.01", "value": -12}, "value": -7}}},
           "y": {"field": "entries", "type": "quantitative", "scale": {"domain": [5, 1177], "nice": false, "zero": false},
                 "axis": {"orient": "right", "values": [50,100,150,200,250,300,350,400,450,500,550,600,650,700,750,800,850,900,950,1000,1050,1100,1150],
                          "labels": false, "title": null,
                          "tickSize": {"condition": {"test": "datum.value % 200 === 0", "value": -22}, "value": -10}}},
           "color": {"field": "series", "type": "nominal", "scale": {"domain": ["Data", "Fit, all", "Fit, signal", "Fit, background"], "range": ["black", "black", "#0000ff", "#00f000"]}}}},
        {"data": {"name": "curves"}, "transform": [{"filter": "datum.panel === 'B' && datum.series === 'Fit, all'"}],
         "mark": {"type": "line", "strokeWidth": 3.5, "clip": true, "interpolate": "monotone"},
         "encoding": {
           "x": {"field": "mass", "type": "quantitative", "scale": {"domain": [2.4, 3.6], "nice": false, "zero": false}, "axis": null},
           "y": {"field": "entries", "type": "quantitative", "scale": {"domain": [5, 1177], "nice": false, "zero": false}, "axis": null},
           "color": {"field": "series", "type": "nominal", "scale": {"domain": ["Data", "Fit, all", "Fit, signal", "Fit, background"], "range": ["black", "black", "#0000ff", "#00f000"]}}}},
        {"data": {"name": "points"}, "transform": [{"filter": "datum.panel === 'B'"}],
         "mark": {"type": "point", "filled": true, "size": 100, "opacity": 1, "stroke": "black", "strokeWidth": 2},
         "encoding": {
           "x": {"field": "mass", "type": "quantitative", "scale": {"domain": [2.4, 3.6], "nice": false, "zero": false}, "axis": null},
           "y": {"field": "entries", "type": "quantitative", "scale": {"domain": [5, 1177], "nice": false, "zero": false}, "axis": null},
           "color": {"field": "series", "type": "nominal", "scale": {"domain": ["Data", "Fit, all", "Fit, signal", "Fit, background"], "range": ["black", "black", "#0000ff", "#00f000"]}}}},
        {"data": {"values": [{}]}, "mark": {"type": "text", "text": "30 ≤", "align": "left", "baseline": "middle", "fontSize": 21, "fontWeight": "bold", "color": "black"},
         "encoding": {"x": {"datum": 3.2388, "type": "quantitative", "axis": null}, "y": {"datum": 757, "type": "quantitative", "axis": null}}},
        {"data": {"values": [{}]}, "mark": {"type": "text", "text": "N", "align": "left", "baseline": "middle", "fontSize": 21, "fontWeight": "bold", "fontStyle": "italic", "color": "black"},
         "encoding": {"x": {"datum": 3.3291, "type": "quantitative", "axis": null}, "y": {"datum": 757, "type": "quantitative", "axis": null}}},
        {"data": {"values": [{}]}, "mark": {"type": "text", "text": "tracklets", "align": "left", "baseline": "middle", "fontSize": 15.5, "fontWeight": "bold", "color": "black"},
         "encoding": {"x": {"datum": 3.3639, "type": "quantitative", "axis": null}, "y": {"datum": 719, "type": "quantitative", "axis": null}}},
        {"data": {"values": [{}]}, "mark": {"type": "text", "text": "< 40", "align": "left", "baseline": "middle", "fontSize": 21, "fontWeight": "bold", "color": "black"},
         "encoding": {"x": {"datum": 3.4767, "type": "quantitative", "axis": null}, "y": {"datum": 757, "type": "quantitative", "axis": null}}}
      ]
    },
    {
      "width": 691, "height": 272,
      "layer": [
        {"data": {"name": "points"}, "transform": [{"filter": "datum.panel === 'C'"}],
         "mark": {"type": "errorbar", "color": "black", "thickness": 2},
         "encoding": {
           "x": {"field": "mass", "type": "quantitative", "scale": {"domain": [2.4, 3.6], "nice": false, "zero": false}, "axis": null},
           "xError": {"field": "halfwidth"},
           "y": {"field": "entries", "type": "quantitative", "scale": {"domain": [0, 690], "nice": false, "zero": false}, "axis": null}}},
        {"data": {"name": "points"}, "transform": [{"filter": "datum.panel === 'C'"}],
         "mark": {"type": "errorbar", "color": "black", "thickness": 2},
         "encoding": {
           "x": {"field": "mass", "type": "quantitative", "scale": {"domain": [2.4, 3.6], "nice": false, "zero": false}, "axis": null},
           "y": {"field": "entries", "type": "quantitative", "scale": {"domain": [0, 690], "nice": false, "zero": false}, "axis": null},
           "yError": {"field": "err"}}},
        {"data": {"name": "curves"}, "transform": [{"filter": "datum.panel === 'C' && datum.series === 'Fit, background'"}],
         "mark": {"type": "line", "strokeWidth": 4, "strokeDash": [12, 5], "clip": true, "interpolate": "monotone"},
         "encoding": {
           "x": {"field": "mass", "type": "quantitative", "scale": {"domain": [2.4, 3.6], "nice": false, "zero": false},
                 "axis": {"orient": "bottom", "values": [2.4,2.45,2.5,2.55,2.6,2.65,2.7,2.75,2.8,2.85,2.9,2.95,3,3.05,3.1,3.15,3.2,3.25,3.3,3.35,3.4,3.45,3.5,3.55,3.6],
                          "labelExpr": "abs(datum.value*5 - round(datum.value*5)) < 0.01 ? format(datum.value, '.2~f') : ''", "labelFontSize": 21, "labelPadding": 14,
                          "tickSize": {"condition": {"test": "abs(datum.value*5 - round(datum.value*5)) < 0.01", "value": -12}, "value": -7},
                          "title": "mₑ₊ₑ₋ (GeV/c²)", "titleFontSize": 24, "titlePadding": 2}},
           "y": {"field": "entries", "type": "quantitative", "scale": {"domain": [0, 690], "nice": false, "zero": false},
                 "axis": {"orient": "left", "values": [20,40,60,80,100,120,140,160,180,200,220,240,260,280,300,320,340,360,380,400,420,440,460,480,500,520,540,560,580,600,620,640,660,680],
                          "labelExpr": "datum.value % 100 === 0 ? format(datum.value, 'd') : ''", "labelFontSize": 20, "labelPadding": 29, "labelBaseline": "middle",
                          "tickSize": {"condition": {"test": "datum.value % 100 === 0", "value": -23}, "value": -11}, "title": null}},
           "color": {"field": "series", "type": "nominal", "scale": {"domain": ["Data", "Fit, all", "Fit, signal", "Fit, background"], "range": ["black", "black", "#0000ff", "#00f000"]}}}},
        {"data": {"name": "curves"}, "transform": [{"filter": "datum.panel === 'C' && datum.series === 'Fit, signal'"}],
         "mark": {"type": "line", "strokeWidth": 4, "strokeDash": [13, 5, 3, 5], "clip": true, "interpolate": "monotone"},
         "encoding": {
           "x": {"field": "mass", "type": "quantitative", "scale": {"domain": [2.4, 3.6], "nice": false, "zero": false},
                 "axis": {"orient": "top", "values": [2.4,2.45,2.5,2.55,2.6,2.65,2.7,2.75,2.8,2.85,2.9,2.95,3,3.05,3.1,3.15,3.2,3.25,3.3,3.35,3.4,3.45,3.5,3.55,3.6], "labels": false, "title": null,
                          "tickSize": {"condition": {"test": "abs(datum.value*5 - round(datum.value*5)) < 0.01", "value": -12}, "value": -7}}},
           "y": {"field": "entries", "type": "quantitative", "scale": {"domain": [0, 690], "nice": false, "zero": false},
                 "axis": {"orient": "right", "values": [20,40,60,80,100,120,140,160,180,200,220,240,260,280,300,320,340,360,380,400,420,440,460,480,500,520,540,560,580,600,620,640,660,680],
                          "labels": false, "title": null,
                          "tickSize": {"condition": {"test": "datum.value % 100 === 0", "value": -22}, "value": -10}}},
           "color": {"field": "series", "type": "nominal", "scale": {"domain": ["Data", "Fit, all", "Fit, signal", "Fit, background"], "range": ["black", "black", "#0000ff", "#00f000"]}}}},
        {"data": {"name": "curves"}, "transform": [{"filter": "datum.panel === 'C' && datum.series === 'Fit, all'"}],
         "mark": {"type": "line", "strokeWidth": 3.5, "clip": true, "interpolate": "monotone"},
         "encoding": {
           "x": {"field": "mass", "type": "quantitative", "scale": {"domain": [2.4, 3.6], "nice": false, "zero": false}, "axis": null},
           "y": {"field": "entries", "type": "quantitative", "scale": {"domain": [0, 690], "nice": false, "zero": false}, "axis": null},
           "color": {"field": "series", "type": "nominal", "scale": {"domain": ["Data", "Fit, all", "Fit, signal", "Fit, background"], "range": ["black", "black", "#0000ff", "#00f000"]}}}},
        {"data": {"name": "points"}, "transform": [{"filter": "datum.panel === 'C'"}],
         "mark": {"type": "point", "filled": true, "size": 100, "opacity": 1, "stroke": "black", "strokeWidth": 2},
         "encoding": {
           "x": {"field": "mass", "type": "quantitative", "scale": {"domain": [2.4, 3.6], "nice": false, "zero": false}, "axis": null},
           "y": {"field": "entries", "type": "quantitative", "scale": {"domain": [0, 690], "nice": false, "zero": false}, "axis": null},
           "color": {"field": "series", "type": "nominal", "scale": {"domain": ["Data", "Fit, all", "Fit, signal", "Fit, background"], "range": ["black", "black", "#0000ff", "#00f000"]}}}},
        {"data": {"values": [{}]}, "mark": {"type": "text", "text": "80 ≤", "align": "left", "baseline": "middle", "fontSize": 21, "fontWeight": "bold", "color": "black"},
         "encoding": {"x": {"datum": 3.2284, "type": "quantitative", "axis": null}, "y": {"datum": 422, "type": "quantitative", "axis": null}}},
        {"data": {"values": [{}]}, "mark": {"type": "text", "text": "N", "align": "left", "baseline": "middle", "fontSize": 21, "fontWeight": "bold", "fontStyle": "italic", "color": "black"},
         "encoding": {"x": {"datum": 3.3205, "type": "quantitative", "axis": null}, "y": {"datum": 422, "type": "quantitative", "axis": null}}},
        {"data": {"values": [{}]}, "mark": {"type": "text", "text": "tracklets", "align": "left", "baseline": "middle", "fontSize": 15.5, "fontWeight": "bold", "color": "black"},
         "encoding": {"x": {"datum": 3.3517, "type": "quantitative", "axis": null}, "y": {"datum": 398, "type": "quantitative", "axis": null}}},
        {"data": {"values": [{}]}, "mark": {"type": "text", "text": "< 100", "align": "left", "baseline": "middle", "fontSize": 21, "fontWeight": "bold", "color": "black"},
         "encoding": {"x": {"datum": 3.4716, "type": "quantitative", "axis": null}, "y": {"datum": 422, "type": "quantitative", "axis": null}}}
      ]
    }
  ]
}
